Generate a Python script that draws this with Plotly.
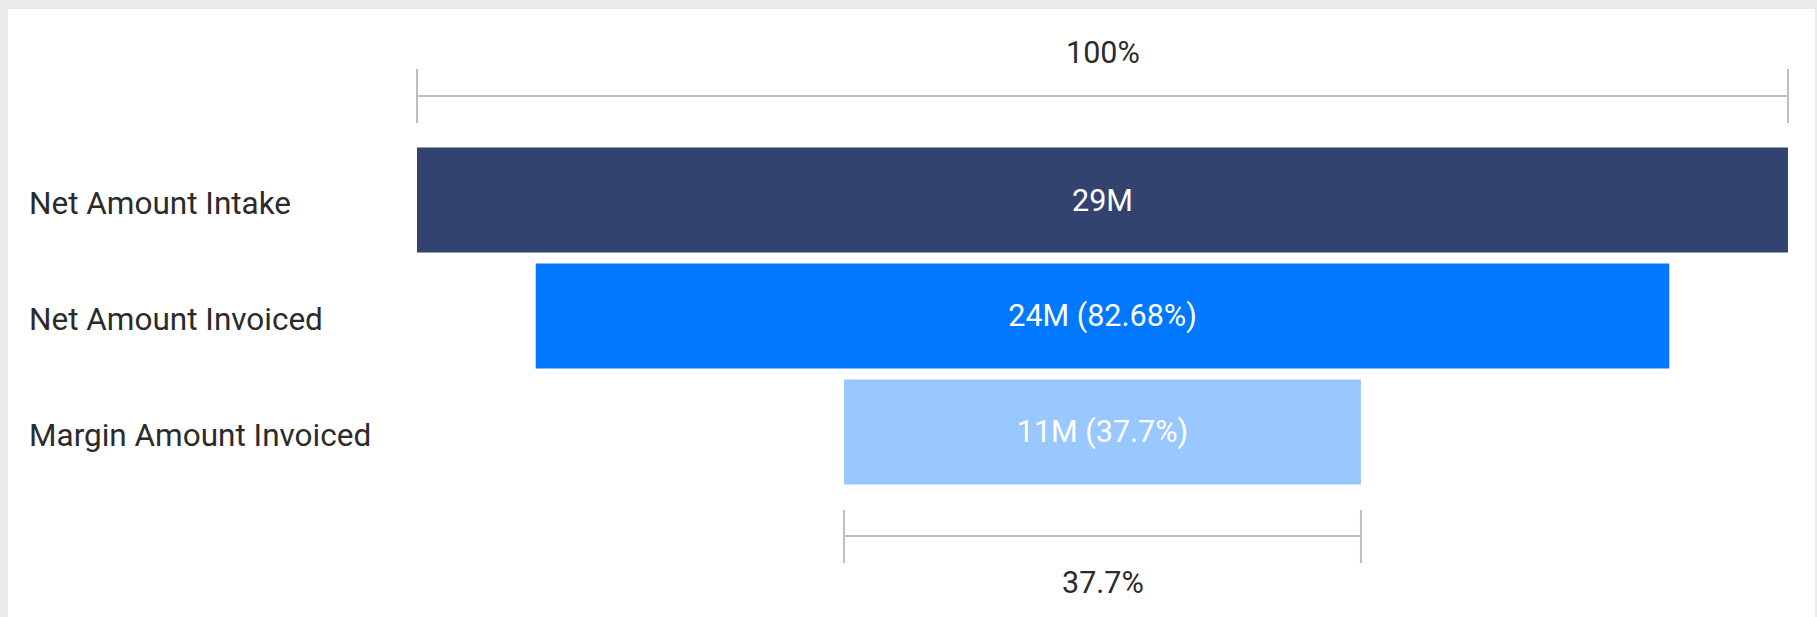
import plotly.graph_objects as go

# ---- data ----
stages = ["Net Amount Intake", "Net Amount Invoiced", "Margin Amount Invoiced"]
values = [29.0e6, 23.977e6, 10.933e6]
bar_colors = ["#334370", "#0078FF", "#99C8FF"]

v0 = values[0]
pcts = [v / v0 * 100 for v in values]


def fmt_pct(p):
    s = f"{p:.2f}".rstrip("0").rstrip(".")
    return s + "%"


labels = []
for i, (v, p) in enumerate(zip(values, pcts)):
    if i == 0:
        labels.append(f"{v/1e6:.0f}M")
    else:
        labels.append(f"{v/1e6:.0f}M ({fmt_pct(p)})")

W, H = 1817, 617
ml, mr, mt, mb = 417, 29, 142, 127
pw = W - ml - mr
ph = H - mt - mb


def px_x(px):
    return (px - ml) / pw


def px_y(py):
    return (H - mb - py) / ph


FONT = "Roboto"
TXT = "#2b2b2b"
GRAY = "#c1bdb7"
NUM_SIZE = 30.5
CAT_SIZE = 31.5

fig = go.Figure(
    go.Funnel(
        y=stages,
        x=values,
        text=labels,
        textinfo="text",
        textposition="inside",
        insidetextanchor="middle",
        textfont=dict(family=FONT, size=NUM_SIZE, color="white"),
        marker=dict(color=bar_colors, line=dict(width=0)),
        connector=dict(visible=False),
        hoverinfo="y+x",
    )
)

shapes = []
annotations = []


def bracket(v, y_line, y_top, y_bot, label, y_label):
    x0 = 0.5 - v / (2 * v0)
    x1 = 0.5 + v / (2 * v0)
    ln = dict(color=GRAY, width=2)
    shapes.append(dict(type="line", xref="paper", yref="paper", x0=x0, x1=x1,
                       y0=px_y(y_line), y1=px_y(y_line), line=ln))
    for xx in (x0, x1):
        shapes.append(dict(type="line", xref="paper", yref="paper", x0=xx, x1=xx,
                           y0=px_y(y_top), y1=px_y(y_bot), line=ln))
    annotations.append(dict(xref="paper", yref="paper", x=(x0 + x1) / 2, y=px_y(y_label),
                            text=label, showarrow=False, xanchor="center", yanchor="middle",
                            font=dict(family=FONT, size=NUM_SIZE, color=TXT)))


bracket(values[0], 96, 69, 123, fmt_pct(pcts[0]), 53)
bracket(values[-1], 536, 510, 563, fmt_pct(pcts[-1]), 582)

for s in stages:
    annotations.append(dict(xref="paper", yref="y", x=px_x(27), y=s, text=s,
                            showarrow=False, xanchor="left", yanchor="middle", yshift=-3,
                            font=dict(family=FONT, size=CAT_SIZE, color=TXT)))

# gray frame strips (top, left, right)
frame = "#ebebeb"
shapes.append(dict(type="rect", xref="paper", yref="paper", x0=px_x(0), x1=px_x(W),
                   y0=px_y(0), y1=px_y(9), fillcolor=frame, line=dict(width=0), layer="below"))
shapes.append(dict(type="rect", xref="paper", yref="paper", x0=px_x(0), x1=px_x(8),
                   y0=px_y(0), y1=px_y(H), fillcolor=frame, line=dict(width=0), layer="below"))
shapes.append(dict(type="rect", xref="paper", yref="paper", x0=px_x(1815), x1=px_x(W),
                   y0=px_y(0), y1=px_y(H), fillcolor=frame, line=dict(width=0), layer="below"))

fig.update_layout(
    width=W,
    height=H,
    margin=dict(l=ml, r=mr, t=mt, b=mb, pad=0),
    paper_bgcolor="white",
    plot_bgcolor="white",
    funnelgap=0.095,
    showlegend=False,
    xaxis=dict(visible=False, range=[-v0 / 2, v0 / 2], fixedrange=True),
    yaxis=dict(showticklabels=False, showgrid=False, zeroline=False, showline=False,
               ticks="", fixedrange=True),
    shapes=shapes,
    annotations=annotations,
    font=dict(family=FONT, color=TXT),
)

fig.write_html(
    "out.html",
    config={"displayModeBar": False},
    post_script="document.body.style.margin='0';document.body.style.overflow='hidden';",
)
